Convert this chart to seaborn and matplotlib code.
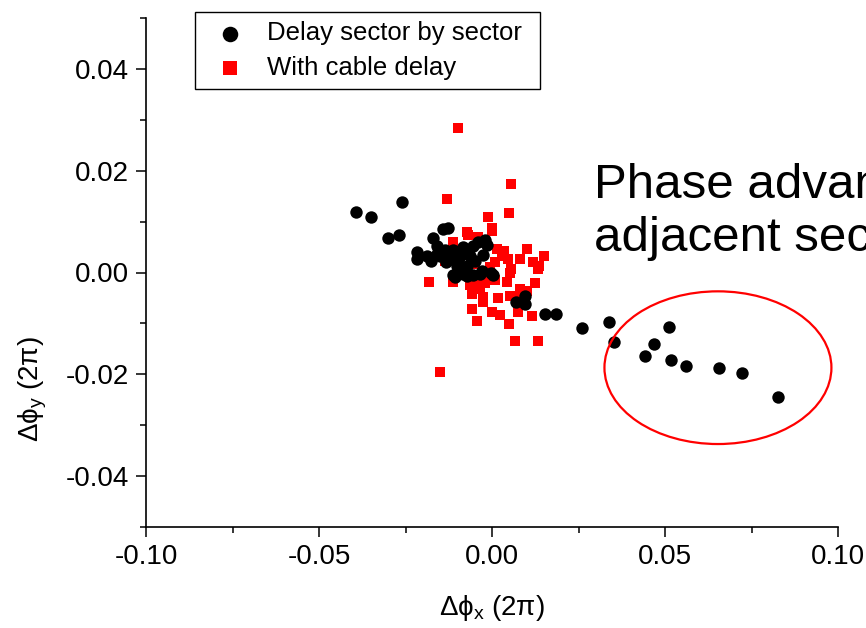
import numpy as np
import pandas as pd
import matplotlib
matplotlib.use("Agg")
import matplotlib.pyplot as plt
from matplotlib.patches import Ellipse
from matplotlib.ticker import MultipleLocator, FormatStrFormatter
import seaborn as sns

# ---- data: "Delay sector by sector" (black circles) ----
black_x = [-0.0394, -0.0351, -0.0261, -0.0300, -0.0269, -0.0141, -0.0128, -0.0171,
           -0.0160, -0.0218, -0.0216, -0.0189, -0.0177, -0.0159,
           -0.0136, -0.0113, -0.0084, -0.0055, -0.0040, -0.0020, -0.0014, -0.0121,
           -0.0092, -0.0064, -0.0026, -0.0101, -0.0072, -0.0133, -0.0150, -0.0113,
           -0.0084, -0.0055, -0.0029, -0.0003, -0.0107, -0.0072, -0.0035, 0.0003,
           -0.0049, -0.0069, -0.0098,
           0.0069, 0.0095, 0.0095,
           0.0153, 0.0185, 0.0260, 0.0338, 0.0353, 0.0442, 0.0468, 0.0512, 0.0517,
           0.0561, 0.0656, 0.0723, 0.0827]
black_y = [0.0119, 0.0110, 0.0139, 0.0068, 0.0073, 0.0086, 0.0088, 0.0068,
           0.0052, 0.0040, 0.0026, 0.0032, 0.0022, 0.0037,
           0.0045, 0.0045, 0.0051, 0.0053, 0.0059, 0.0063, 0.0055, 0.0026,
           0.0032, 0.0032, 0.0035, 0.0012, 0.0012, 0.0020, 0.0032, -0.0004,
           -0.0002, -0.0004, 0.0002, 0.0000, -0.0008, -0.0006, -0.0002, -0.0004,
           0.0022, 0.0041, 0.0022,
           -0.0057, -0.0047, -0.0061,
           -0.0081, -0.0081, -0.0110, -0.0097, -0.0136, -0.0164, -0.0140, -0.0108, -0.0171,
           -0.0183, -0.0187, -0.0197, -0.0244]

# ---- data: "With cable delay" (red squares) ----
red_x = [-0.0098, 0.0055, -0.0130, 0.0049, -0.0012, 0.0000, -0.0069, -0.0040, -0.0113,
         0.0014, 0.0035, 0.0101, 0.0150, 0.0081, 0.0118, 0.0136, 0.0046, 0.0029, 0.0009,
         0.0055, -0.0136, -0.0182, -0.0113, -0.0064, -0.0026, 0.0009, 0.0043, 0.0124,
         0.0081, -0.0058, -0.0026, 0.0017, 0.0066, 0.0101, -0.0026, -0.0058, 0.0000,
         0.0023, 0.0075, 0.0116, -0.0043, 0.0049, 0.0066, 0.0133, -0.0150, 0.0052,
         0.0133, -0.0055, -0.0020, 0.0052, -0.0087, -0.0049, -0.0006, -0.0075, -0.0035,
         -0.0092, -0.0072, 0.0000]
red_y = [0.0284, 0.0173, 0.0144, 0.0116, 0.0110, 0.0087, 0.0073, 0.0069, 0.0059,
         0.0047, 0.0043, 0.0047, 0.0032, 0.0026, 0.0020, 0.0012, 0.0026, 0.0032, 0.0020,
         0.0006, 0.0022, -0.0018, -0.0018, -0.0024, -0.0014, -0.0014, -0.0018, -0.0020,
         -0.0033, -0.0043, -0.0049, -0.0051, -0.0047, -0.0037, -0.0057, -0.0071, -0.0077,
         -0.0083, -0.0077, -0.0085, -0.0095, -0.0102, -0.0134, -0.0134, -0.0195, 0.0000,
         0.0006, -0.0020, -0.0020, -0.0047, 0.0035, 0.0016, 0.0010, -0.0004, -0.0033,
         0.0010, 0.0079, 0.0081]

series_names = ["Delay sector by sector", "With cable delay"]
x_ticks = [-0.10, -0.05, 0.00, 0.05, 0.10]
y_ticks = [-0.04, -0.02, 0.00, 0.02, 0.04]

df_black = pd.DataFrame({"dx": black_x, "dy": black_y})
df_red = pd.DataFrame({"dx": red_x, "dy": red_y})

sns.set_style("ticks")
plt.rcParams["font.family"] = ["Liberation Sans", "DejaVu Sans"]
plt.rcParams["mathtext.fontset"] = "custom"
plt.rcParams["mathtext.rm"] = "Liberation Sans"
plt.rcParams["mathtext.it"] = "Liberation Sans"
for key in ["text.color", "axes.labelcolor", "xtick.color", "ytick.color",
            "xtick.labelcolor", "ytick.labelcolor"]:
    plt.rcParams[key] = "black"

fig = plt.figure(figsize=(8.66, 6.28), dpi=100)
ax = fig.add_axes([146 / 866, 101 / 628, 692 / 866, 509 / 628])

sns.scatterplot(data=df_red, x="dx", y="dy", ax=ax, marker="s", s=60, color="#ff0000",
                linewidth=0, label=series_names[1], zorder=2)
sns.scatterplot(data=df_black, x="dx", y="dy", ax=ax, marker="o", s=80, color="black",
                linewidth=0, label=series_names[0], zorder=3)

ax.set_xlim(-0.10, 0.10)
ax.set_ylim(-0.05, 0.05)
ax.set_xticks(x_ticks)
ax.set_yticks(y_ticks)
ax.xaxis.set_minor_locator(MultipleLocator(0.025))
ax.yaxis.set_minor_locator(MultipleLocator(0.01))
ax.xaxis.set_major_formatter(FormatStrFormatter("%.2f"))
ax.yaxis.set_major_formatter(FormatStrFormatter("%.2f"))
ax.tick_params(axis="both", which="major", direction="out", length=7, width=1.1,
               labelsize=20, color="black", labelcolor="black", pad=5)
ax.tick_params(axis="both", which="minor", direction="out", length=4, width=1.1, color="black")
for side in ["top", "right"]:
    ax.spines[side].set_visible(False)
for side in ["left", "bottom"]:
    ax.spines[side].set_linewidth(1.2)
    ax.spines[side].set_color("black")

ax.set_xlabel(r"$\Delta\phi_x$ (2$\pi$)", fontsize=20, color="black")
ax.set_ylabel(r"$\Delta\phi_y$ (2$\pi$)", fontsize=20, color="black")
ax.xaxis.set_label_coords(0.5, -0.13)
ax.yaxis.set_label_coords(-0.14, 0.27)

ell = Ellipse((0.0653, -0.0187), 0.0656, 0.030, fill=False, edgecolor="#ff0000",
              linewidth=1.6, zorder=4)
ax.add_patch(ell)

fig.text(594 / 866, 1 - 163 / 628, "Phase advance of\nadjacent sectors", fontsize=35.5,
         ha="left", va="top", linespacing=1.24, color="black")

handles, labels = ax.get_legend_handles_labels()
order = [labels.index(series_names[0]), labels.index(series_names[1])]
leg_top = 1 - 12 / 628
leg = ax.legend([handles[i] for i in order], [labels[i] for i in order],
                loc="upper left", mode="expand",
                bbox_to_anchor=(195 / 866, 0.5, 345 / 866, leg_top - 0.5),
                bbox_transform=fig.transFigure, fontsize=18.5, frameon=True,
                fancybox=False, edgecolor="black", framealpha=1,
                borderpad=0.36, handletextpad=0.45, labelspacing=0.42, handlelength=2.0,
                borderaxespad=0, markerscale=1.25)
leg.get_frame().set_linewidth(1.0)
for t in leg.get_texts():
    t.set_color("black")

fig.savefig("out.png", dpi=100)
